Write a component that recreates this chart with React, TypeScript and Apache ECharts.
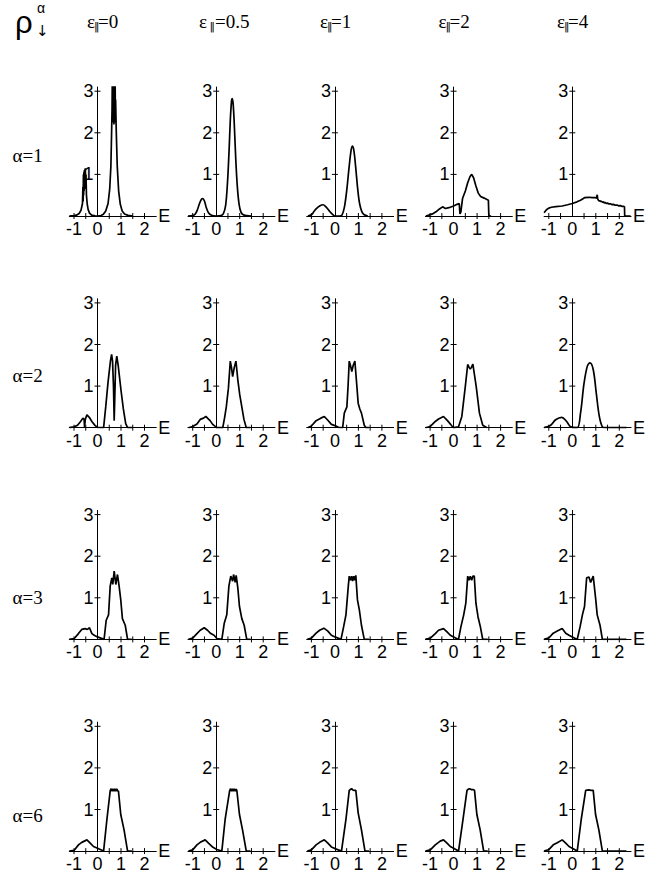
import { useEffect, useRef } from "react";
import * as echarts from "echarts";

// ---- texts ----
const colTitles = ["0", "0.5", "1", "2", "4"];
const rowTitles = ["α=1", "α=2", "α=3", "α=6"];
const xLabelValues = [-1, 0, 1, 2];
const xTickValues = [-1, -0.5, 0.5, 1, 1.5, 2];
const yLabelValues = [1, 2, 3];
const yTickValues = [1, 2, 3];

// ---- data: [E, rho] ----
// alpha = 1
const a1_e0 = [[-1.2,0],[-1.0,0.01],[-0.9,0.02],[-0.78,0.06],[-0.7,0.14],[-0.64,0.3],[-0.62,0.7],[-0.61,0.35],[-0.6,1.0],[-0.59,0.5],[-0.58,1.05],[-0.57,0.6],[-0.56,1.1],[-0.55,0.65],[-0.54,1.12],[-0.53,0.7],[-0.52,1.15],[-0.5,0.8],[-0.49,1.0],[-0.47,0.5],[-0.44,0.3],[-0.4,0.16],[-0.34,0.07],[-0.25,0.02],[-0.1,0.005],[0,0],[0.15,0.01],[0.25,0.04],[0.35,0.12],[0.45,0.3],[0.52,0.65],[0.57,1.2],[0.6,2.0],[0.62,2.6],[0.63,3.3],[0.64,2.3],[0.65,3.3],[0.66,2.25],[0.67,3.3],[0.68,2.3],[0.69,3.3],[0.7,2.2],[0.71,3.3],[0.72,2.25],[0.73,3.3],[0.74,2.3],[0.75,3.3],[0.76,2.4],[0.77,2.8],[0.8,2.0],[0.84,1.2],[0.9,0.6],[0.97,0.28],[1.05,0.12],[1.15,0.05],[1.3,0.015],[1.5,0]];
const a1_e05 = [[-1.2,0],[-1.0,0.01],[-0.9,0.04],[-0.8,0.15],[-0.7,0.32],[-0.62,0.41],[-0.57,0.42],[-0.5,0.36],[-0.42,0.2],[-0.33,0.08],[-0.2,0.02],[0,0],[0.2,0.01],[0.3,0.05],[0.4,0.25],[0.48,0.8],[0.55,1.6],[0.6,2.3],[0.65,2.75],[0.68,2.82],[0.72,2.7],[0.77,2.2],[0.83,1.4],[0.9,0.7],[0.97,0.3],[1.05,0.1],[1.15,0.03],[1.3,0.01],[1.5,0]];
const a1_e1 = [[-1.15,0],[-1.0,0.03],[-0.9,0.1],[-0.8,0.17],[-0.65,0.24],[-0.5,0.27],[-0.4,0.23],[-0.25,0.13],[-0.1,0.04],[0,0],[0.2,0],[0.3,0.02],[0.4,0.2],[0.5,0.6],[0.6,1.15],[0.68,1.55],[0.74,1.68],[0.8,1.6],[0.88,1.2],[0.97,0.65],[1.05,0.3],[1.15,0.1],[1.25,0.03],[1.4,0]];
const a1_e2 = [[-1.18,0],[-1.05,0.02],[-0.9,0.05],[-0.75,0.1],[-0.6,0.17],[-0.47,0.22],[-0.35,0.18],[-0.2,0.2],[0,0.24],[0.15,0.28],[0.24,0.3],[0.27,0.05],[0.31,0.1],[0.38,0.42],[0.5,0.6],[0.6,0.8],[0.7,0.95],[0.77,1.0],[0.85,0.92],[0.95,0.72],[1.05,0.55],[1.15,0.47],[1.3,0.43],[1.48,0.38],[1.5,0],[1.6,0]];
const a1_e4 = [[-1.2,0.08],[-1.1,0.15],[-1.0,0.19],[-0.89,0.21],[-0.7,0.225],[-0.43,0.24],[-0.2,0.27],[0,0.3],[0.2,0.34],[0.35,0.38],[0.52,0.44],[0.7,0.45],[0.85,0.44],[0.99,0.44],[1.03,0.43],[1.06,0.51],[1.08,0.41],[1.11,0.38],[1.14,0.36],[1.17,0.37],[1.2,0.35],[1.24,0.355],[1.28,0.33],[1.32,0.34],[1.36,0.315],[1.4,0.325],[1.45,0.3],[1.5,0.31],[1.56,0.29],[1.62,0.295],[1.68,0.275],[1.75,0.28],[1.82,0.26],[1.9,0.265],[1.97,0.245],[2.05,0.25],[2.12,0.23],[2.18,0.235],[2.22,0.22],[2.23,0],[2.48,0]];
// alpha = 2
const a2_e0 = [[-1.2,0],[-1.0,0.02],[-0.85,0.06],[-0.72,0.15],[-0.62,0.23],[-0.57,0.2],[-0.55,0.02],[-0.52,0.2],[-0.45,0.31],[-0.35,0.25],[-0.24,0.15],[-0.1,0.05],[0,0.01],[0.26,0],[0.35,0.5],[0.45,1.1],[0.55,1.6],[0.6,1.76],[0.64,1.6],[0.68,1.0],[0.71,0.17],[0.73,0.6],[0.77,1.5],[0.82,1.72],[0.88,1.5],[1.0,0.9],[1.1,0.45],[1.2,0.1],[1.28,0],[1.5,0]];
const a2_e05 = [[-1.18,0],[-1.0,0.03],[-0.82,0.09],[-0.68,0.2],[-0.54,0.23],[-0.44,0.27],[-0.35,0.22],[-0.26,0.17],[-0.15,0.08],[-0.04,0.03],[0.03,0],[0.28,0],[0.36,0.25],[0.43,0.5],[0.52,0.95],[0.6,1.6],[0.65,1.45],[0.7,1.23],[0.77,1.45],[0.84,1.6],[0.92,1.15],[1.0,0.8],[1.09,0.5],[1.18,0.2],[1.28,0],[1.45,0]];
const a2_e1 = [[-1.16,0],[-1.0,0.04],[-0.8,0.17],[-0.6,0.23],[-0.45,0.27],[-0.3,0.18],[-0.15,0.08],[0,0.05],[0.15,0.01],[0.33,0],[0.4,0.35],[0.51,0.5],[0.56,1.0],[0.61,1.6],[0.66,1.5],[0.72,1.35],[0.78,1.5],[0.85,1.6],[0.92,1.1],[0.99,0.59],[1.06,0.45],[1.13,0.35],[1.25,0.06],[1.32,0],[1.45,0]];
const a2_e2 = [[-1.2,0],[-0.99,0.03],[-0.78,0.15],[-0.64,0.21],[-0.43,0.27],[-0.26,0.17],[-0.07,0.04],[0,0],[0.21,0.02],[0.35,0.27],[0.5,1.0],[0.6,1.52],[0.66,1.45],[0.71,1.41],[0.76,1.45],[0.82,1.53],[0.96,1.0],[1.1,0.35],[1.24,0.06],[1.42,0]];
const a2_e4 = [[-1.2,0],[-0.92,0.06],[-0.71,0.19],[-0.45,0.25],[-0.24,0.15],[-0.07,0.02],[0.21,0],[0.35,0.35],[0.5,1.07],[0.64,1.48],[0.75,1.56],[0.89,1.4],[1.02,0.83],[1.15,0.27],[1.28,0.02],[1.4,0],[2.3,0]];
// alpha = 3
const a3_e0 = [[-1.2,0],[-0.99,0.02],[-0.81,0.14],[-0.67,0.24],[-0.52,0.26],[-0.43,0.24],[-0.34,0.28],[-0.24,0.14],[-0.14,0.1],[0,0.06],[0.28,0],[0.37,0.46],[0.47,0.59],[0.54,1.28],[0.61,1.48],[0.65,1.32],[0.71,1.64],[0.78,1.32],[0.85,1.56],[0.92,1.28],[0.99,0.95],[1.06,0.5],[1.18,0.34],[1.28,0],[1.46,0]];
const a3_e05 = [[-1.18,0],[-1.0,0.03],[-0.82,0.14],[-0.68,0.22],[-0.51,0.28],[-0.37,0.22],[-0.23,0.14],[-0.09,0.1],[0.03,0.02],[0.24,0],[0.34,0.38],[0.45,0.59],[0.54,1.28],[0.62,1.52],[0.7,1.4],[0.74,1.56],[0.81,1.37],[0.85,1.54],[0.92,1.24],[0.99,0.79],[1.09,0.5],[1.19,0.34],[1.3,0],[1.46,0]];
const a3_e1 = [[-1.17,0],[-1.0,0.03],[-0.8,0.15],[-0.65,0.22],[-0.47,0.27],[-0.3,0.2],[-0.15,0.1],[0,0.06],[0.26,0],[0.37,0.3],[0.47,0.59],[0.57,1.28],[0.61,1.52],[0.66,1.42],[0.71,1.52],[0.75,1.4],[0.8,1.52],[0.84,1.42],[0.89,1.54],[0.96,0.95],[1.04,0.71],[1.13,0.34],[1.25,0],[1.45,0]];
const a3_e2 = [[-1.2,0],[-0.99,0.03],[-0.78,0.14],[-0.64,0.22],[-0.43,0.26],[-0.28,0.18],[-0.14,0.1],[0,0.06],[0.21,0],[0.31,0.3],[0.43,0.59],[0.52,0.87],[0.6,1.52],[0.66,1.42],[0.71,1.52],[0.77,1.42],[0.82,1.52],[0.88,1.52],[0.95,0.87],[1.04,0.54],[1.14,0.3],[1.24,0],[1.45,0]];
const a3_e4 = [[-1.2,0],[-0.99,0.04],[-0.81,0.15],[-0.64,0.2],[-0.43,0.26],[-0.28,0.15],[-0.14,0.1],[0,0.06],[0.21,0],[0.33,0.3],[0.43,0.59],[0.52,0.79],[0.61,1.48],[0.71,1.5],[0.78,1.37],[0.89,1.52],[0.99,1.0],[1.06,0.59],[1.18,0.34],[1.28,0],[2.3,0]];
// alpha = 6
const a6_e0 = [[-1.2,0],[-0.99,0.02],[-0.81,0.15],[-0.67,0.21],[-0.45,0.27],[-0.31,0.19],[-0.17,0.11],[0,0.07],[0.26,0],[0.4,0.76],[0.54,1.45],[0.58,1.5],[0.62,1.44],[0.66,1.5],[0.7,1.44],[0.74,1.5],[0.78,1.44],[0.82,1.5],[0.86,1.44],[0.89,1.45],[0.99,0.88],[1.13,0.51],[1.28,0],[1.46,0]];
const a6_e05 = [[-1.18,0],[-1.0,0.03],[-0.82,0.15],[-0.68,0.21],[-0.47,0.27],[-0.33,0.19],[-0.14,0.09],[0.03,0.04],[0.24,0],[0.38,0.76],[0.57,1.45],[0.61,1.5],[0.65,1.44],[0.69,1.5],[0.73,1.44],[0.77,1.5],[0.81,1.44],[0.85,1.49],[0.88,1.45],[0.99,0.88],[1.12,0.51],[1.28,0],[1.46,0]];
const a6_e1 = [[-1.17,0],[-1.0,0.03],[-0.8,0.15],[-0.65,0.21],[-0.45,0.27],[-0.3,0.19],[-0.15,0.1],[0,0.06],[0.28,0],[0.47,0.76],[0.61,1.46],[0.66,1.48],[0.71,1.5],[0.76,1.47],[0.82,1.46],[0.89,1.46],[0.99,0.92],[1.13,0.51],[1.28,0],[1.45,0]];
const a6_e2 = [[-1.2,0],[-0.99,0.03],[-0.78,0.15],[-0.57,0.24],[-0.43,0.27],[-0.28,0.19],[-0.14,0.11],[0,0.07],[0.21,0],[0.4,0.76],[0.57,1.46],[0.63,1.49],[0.68,1.5],[0.75,1.48],[0.82,1.48],[0.89,1.46],[0.99,0.88],[1.13,0.51],[1.28,0],[1.45,0]];
const a6_e4 = [[-1.2,0],[-0.99,0.04],[-0.81,0.15],[-0.64,0.2],[-0.43,0.27],[-0.28,0.19],[-0.14,0.11],[0,0.07],[0.21,0],[0.38,0.76],[0.57,1.46],[0.7,1.47],[0.8,1.46],[0.89,1.46],[0.99,0.88],[1.13,0.51],[1.28,0],[2.3,0]];

const panels = [
  [a1_e0, a1_e05, a1_e1, a1_e2, a1_e4],
  [a2_e0, a2_e05, a2_e1, a2_e2, a2_e4],
  [a3_e0, a3_e05, a3_e1, a3_e2, a3_e4],
  [a6_e0, a6_e05, a6_e1, a6_e2, a6_e4],
];
const smoothPanels = ["0-1", "0-2", "1-4"];

// ---- layout ----
const AX0 = 97.5, DX = 118.7; // x pixel of E=0 for each column
const AY0 = 216, DY = 211.7; // y pixel of rho=0 for each row
const PXX = 23.5, PXY = 41.6; // pixels per unit
const XMIN = -1.2, XMAX = 2.5, YMAX = 3.1;
const SANS = "'Liberation Sans', Arial, sans-serif";
const SERIF = "'Liberation Serif', 'Times New Roman', serif";

const colTitleX = [87, 199, 320, 438.5, 557];
const rowTitleY = [155, 375, 597, 815];

const tickRender = (horizontal: boolean) => (_params: any, api: any) => {
  const v = api.value(0);
  const p = horizontal ? api.coord([v, 0]) : api.coord([0, v]);
  const shape = horizontal
    ? { x1: p[0], y1: p[1] - 3, x2: p[0], y2: p[1] + 3 }
    : { x1: p[0] - 3, y1: p[1], x2: p[0] + 3, y2: p[1] };
  return { type: "line", shape, style: { stroke: "#000", lineWidth: 1 } };
};

export default function App() {
  const ref = useRef<HTMLDivElement>(null);
  useEffect(() => {
    if (!ref.current) return;
    const chart = echarts.init(ref.current, undefined, { renderer: "svg" });
    const grid: any[] = [];
    const xAxis: any[] = [];
    const yAxis: any[] = [];
    const series: any[] = [];
    panels.forEach((row, r) => {
      row.forEach((data, c) => {
        const i = grid.length;
        const ax = AX0 + DX * c;
        const ay = AY0 + DY * r;
        grid.push({
          left: ax + XMIN * PXX,
          top: ay - YMAX * PXY,
          width: (XMAX - XMIN) * PXX,
          height: YMAX * PXY,
          containLabel: false,
        });
        xAxis.push({
          type: "value",
          gridIndex: i,
          min: XMIN,
          max: XMAX,
          splitLine: { show: false },
          axisLine: { show: true, onZero: false, lineStyle: { color: "#000", width: 1 } },
          axisTick: { show: false },
          axisLabel: {
            customValues: xLabelValues,
            color: "#000",
            fontSize: 18,
            fontFamily: SANS,
            margin: 4,
            formatter: (v: number) => String(v),
          },
          name: "E",
          nameLocation: "end",
          nameGap: 2,
          nameTextStyle: { color: "#000", fontSize: 18, fontFamily: SANS },
        });
        yAxis.push({
          type: "value",
          gridIndex: i,
          min: 0,
          max: YMAX,
          position: "left",
          offset: XMIN * PXX,
          splitLine: { show: false },
          axisLine: { show: true, onZero: false, lineStyle: { color: "#000", width: 1 } },
          axisTick: { show: false },
          axisLabel: {
            customValues: yLabelValues,
            color: "#000",
            fontSize: 18,
            fontFamily: SANS,
            margin: 4,
          },
        });
        series.push({
          type: "line",
          xAxisIndex: i,
          yAxisIndex: i,
          data,
          showSymbol: false,
          symbol: "none",
          smooth: smoothPanels.includes(`${r}-${c}`) ? 0.35 : false,
          clip: true,
          lineStyle: { color: "#000", width: 1.7 },
          z: 3,
          silent: true,
        });
        series.push({
          type: "custom",
          xAxisIndex: i,
          yAxisIndex: i,
          data: xTickValues.map((v) => [v]),
          renderItem: tickRender(true),
          clip: false,
          silent: true,
          z: 2,
        });
        series.push({
          type: "custom",
          xAxisIndex: i,
          yAxisIndex: i,
          data: yTickValues.map((v) => [v]),
          renderItem: tickRender(false),
          clip: false,
          silent: true,
          z: 2,
        });
      });
    });

    const graphic: any[] = [
      { type: "text", x: 15, y: 22, style: { text: "ρ", font: `31px ${SANS}`, fill: "#000", verticalAlign: "middle" } },
      { type: "text", x: 37, y: 8, style: { text: "α", font: `14px ${SANS}`, fill: "#000", verticalAlign: "middle" } },
      { type: "text", x: 36, y: 31, style: { text: "↓", font: `15px 'DejaVu Sans', sans-serif`, fill: "#000", verticalAlign: "middle" } },
    ];
    colTitles.forEach((t, c) => {
      const x = colTitleX[c];
      const gap = c === 1 ? 16 : 11;
      graphic.push({ type: "text", x, y: 21, style: { text: "ε", font: `19px ${SERIF}`, fill: "#000", verticalAlign: "middle" } });
      graphic.push({ type: "text", x: x + (c === 1 ? 10.5 : 7), y: 26, style: { text: "‖", font: `11px 'DejaVu Sans', sans-serif`, fill: "#000", verticalAlign: "middle" } });
      graphic.push({ type: "text", x: x + gap, y: 21, style: { text: "=" + t, font: `19px ${SERIF}`, fill: "#000", verticalAlign: "middle" } });
    });
    rowTitles.forEach((t, r) => {
      graphic.push({ type: "text", x: 12.5, y: rowTitleY[r], style: { text: t, font: `19px ${SERIF}`, fill: "#000", verticalAlign: "middle" } });
    });

    chart.setOption({
      animation: false,
      backgroundColor: "#fff",
      grid,
      xAxis,
      yAxis,
      series,
      graphic,
    });
    return () => chart.dispose();
  }, []);
  return (
    <div
      ref={ref}
      style={{ position: "absolute", left: 0, top: 0, width: 661, height: 882, background: "#fff" }}
    />
  );
}
